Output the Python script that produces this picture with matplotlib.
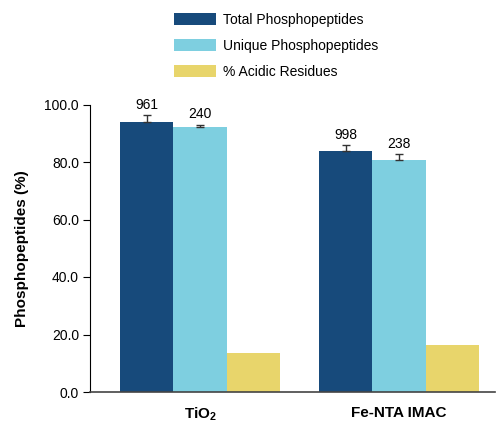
import matplotlib
matplotlib.use("Agg")
import matplotlib.pyplot as plt
import numpy as np

plt.rcParams['font.family'] = ['Liberation Sans Narrow', 'Liberation Sans', 'DejaVu Sans']

# data
groups = ['TiO$\\mathregular{_2}$', 'Fe-NTA IMAC']
series = ['Total Phosphopeptides', 'Unique Phosphopeptides', '% Acidic Residues']
total_pct = [94.0, 83.8]
unique_pct = [92.3, 80.7]
acidic_pct = [13.6, 16.3]
total_err = [2.3, 2.0]
unique_err = [0.7, 2.1]
total_counts = ['961', '998']
unique_counts = ['240', '238']
yticks = [0, 20, 40, 60, 80, 100]

colors = ['#174a7b', '#7ecfe0', '#e8d56b']

fig = plt.figure(figsize=(4.96, 4.24), dpi=100)
ax = fig.add_axes([90 / 496, 32 / 424, 405 / 496, 287.5 / 424])

x = np.arange(len(groups))
w = 0.269
err_kw = dict(ecolor='#333333', elinewidth=1, capsize=3, capthick=1)

b1 = ax.bar(x - w, total_pct, w, color=colors[0], label=series[0],
            yerr=[np.zeros(len(x)), total_err], error_kw=err_kw)
b2 = ax.bar(x, unique_pct, w, color=colors[1], label=series[1],
            yerr=[np.zeros(len(x)), unique_err], error_kw=err_kw)
b3 = ax.bar(x + w, acidic_pct, w, color=colors[2], label=series[2])

# count labels above the error bars
for i in range(len(x)):
    ax.text(x[i] - w, total_pct[i] + total_err[i] + 1.2, total_counts[i],
            ha='center', va='bottom', fontsize=10)
    ax.text(x[i], unique_pct[i] + unique_err[i] + 1.2, unique_counts[i],
            ha='center', va='bottom', fontsize=10)

ax.set_xlim(-0.553, 1.482)
ax.set_ylim(0, 100)
ax.set_yticks(yticks)
ax.set_yticklabels([f'{t:.1f}' for t in yticks], fontsize=10)
ax.set_xticks(x)
ax.set_xticklabels(groups, fontsize=11, fontweight='bold')
ax.tick_params(axis='x', length=0, pad=10)
ax.tick_params(axis='y', length=5, width=0.8, pad=3)
ax.set_ylabel('Phosphopeptides (%)', fontsize=11, fontweight='bold', labelpad=11)

ax.spines['top'].set_visible(False)
ax.spines['right'].set_visible(False)
ax.spines['left'].set_linewidth(0.8)
ax.spines['bottom'].set_linewidth(1.2)
ax.spines['bottom'].set_color('#444444')

fig.legend(handles=[b1, b2, b3], loc='upper left',
           bbox_to_anchor=(174 / 496, 1 - 13 / 424), frameon=False,
           fontsize=10, handlelength=3.0, handleheight=1.0,
           labelspacing=0.85, handletextpad=0.5, borderpad=0, borderaxespad=0)

fig.savefig('out.png', dpi=100)
